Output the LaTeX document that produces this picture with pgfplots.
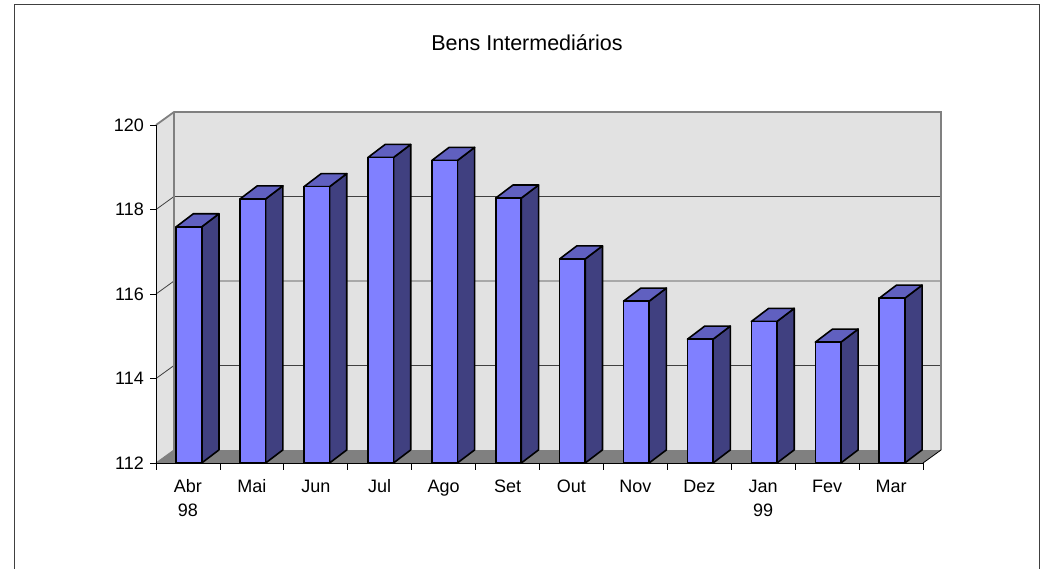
\documentclass[border=0pt]{standalone}
\usepackage{pgfplots}
\pgfplotsset{compat=1.18}
\usepackage{pgfplotstable}
\usepackage{fontspec}
\setmainfont{Liberation Sans}
\definecolor{barfront}{HTML}{8080FF}
\definecolor{barside}{HTML}{404080}
\definecolor{bartop}{HTML}{6060C0}
\definecolor{wall}{HTML}{E2E2E2}
\definecolor{floorc}{HTML}{808080}
\definecolor{edge}{HTML}{808080}

\pgfplotstableread{
x v
0 117.59
1 118.25
2 118.54
3 119.23
4 119.16
5 118.27
6 116.83
7 115.83
8 114.93
9 115.35
10 114.86
11 115.90
}\data

\begin{document}
\fontsize{18}{24}\selectfont
\begin{tikzpicture}[x=1pt,y=1pt]
\useasboundingbox (0pt,0pt) rectangle (1048pt,568pt);
\draw[line width=1.2pt, black!75] (14.5pt,-10pt) -- (14.5pt,563.5pt) -- (1039.5pt,563.5pt) -- (1039.5pt,-10pt);
\node[font=\fontsize{21.5}{26}\selectfont] at (527pt,525pt) {Bens Intermediários};
\begin{axis}[
  at={(156pt,105pt)}, anchor=south west, scale only axis,
  width=767pt, height=338pt,
  xmin=-0.5, xmax=11.5, ymin=112, ymax=120,
  clip=false,
  axis x line*=bottom, axis y line*=left,
  axis line style={draw=none},
  tick align=outside, major tick length=6pt,
  xtick={0,...,11},
  xticklabels={Abr,Mai,Jun,Jul,Ago,Set,Out,Nov,Dez,Jan,Fev,Mar},
  xtick style={draw=none},
  extra x ticks={0,9},
  extra x tick labels={98,99},
  extra x tick style={major tick length=0pt, xticklabel style={yshift=-30.3pt}},
  ytick={112,114,116,118,120},
  ytick style={black, line width=0.8pt},
  xticklabel style={anchor=north, yshift=0pt, execute at begin node={\strut}},
  yticklabel style={xshift=0pt},
  every tick label/.append style={font=\fontsize{18}{24}\selectfont},
  /pgf/number format/assume math mode=true,
]
% walls
\fill[wall] (axis cs:-0.5,112) -- (axis cs:-0.5,120) -- (axis cs:-0.2184,120.3077) -- (axis cs:-0.2184,112.3077) -- cycle;
\fill[wall] (axis cs:-0.2184,112.3077) rectangle (axis cs:11.7816,120.3077);
\fill[floorc] (axis cs:-0.5,112) -- (axis cs:11.5,112) -- (axis cs:11.7816,112.3077) -- (axis cs:-0.2184,112.3077) -- cycle;
\pgfplotsinvokeforeach{114,116,118}{
  \draw[black!75, line width=0.8pt] (axis cs:-0.5,#1) -- (axis cs:-0.2184,#1+0.3077) -- (axis cs:11.7816,#1+0.3077);
}
\draw[edge, line width=1.8pt] (axis cs:-0.5,120) -- (axis cs:-0.2184,120.3077) -- (axis cs:11.7816,120.3077) -- (axis cs:11.7816,112.3077);
\draw[edge, line width=1.8pt] (axis cs:-0.2184,112.3077) -- (axis cs:-0.2184,120.3077);
\draw[edge, line width=1pt] (axis cs:-0.5,112) -- (axis cs:-0.2184,112.3077);
\draw[black, line width=0.8pt] (axis cs:11.5,112) -- (axis cs:11.7816,112.3077);
% bars
\pgfplotsforeachungrouped \i in {0,...,11}{%
  \pgfplotstablegetelem{\i}{v}\of\data
  \let\v\pgfplotsretval
  \pgfmathsetmacro\xa{\i-0.185}%
  \pgfmathsetmacro\xb{\i+0.215}%
  \pgfmathsetmacro\xc{\i+0.215+0.27}%
  \pgfmathsetmacro\xd{\i-0.185+0.27}%
  \pgfmathsetmacro\vt{\v+0.31}%
  \edef\tmp{%
   \noexpand\addplot[draw=black, line width=1.6pt, line join=round, fill=barside] coordinates {(\xb,112) (\xc,112.31) (\xc,\vt) (\xb,\v)} -- cycle;
   \noexpand\addplot[draw=black, line width=1.6pt, line join=round, fill=bartop] coordinates {(\xa,\v) (\xb,\v) (\xc,\vt) (\xd,\vt)} -- cycle;
   \noexpand\addplot[draw=black, line width=1.6pt, line join=round, fill=barfront] coordinates {(\xa,112) (\xb,112) (\xb,\v) (\xa,\v)} -- cycle;
  }\tmp
}
% front axis lines and category ticks
\draw[black, line width=0.8pt] (axis cs:-0.5,120) -- (axis cs:-0.5,112) -- (axis cs:11.5,112);
\pgfplotsinvokeforeach{-0.5,0.5,...,11.5}{
  \draw[black, line width=0.8pt] (axis cs:#1,112) -- ([yshift=-7pt]axis cs:#1,112);
}
\end{axis}
\end{tikzpicture}
\end{document}
